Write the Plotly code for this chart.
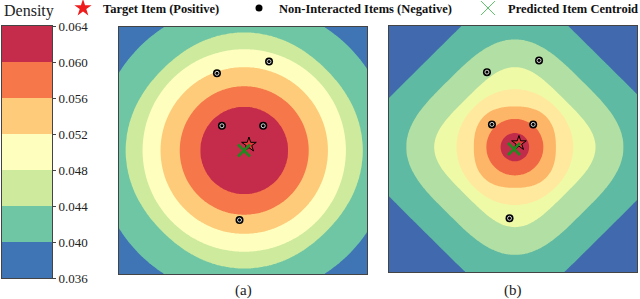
import numpy as np
import plotly.graph_objects as go

# ---------------- data ----------------
# colour-bar / panel (a) band boundaries
CB_TICKS = [0.036, 0.040, 0.044, 0.048, 0.052, 0.056, 0.060, 0.064]
CB_LABELS = ["0.036", "0.040", "0.044", "0.048", "0.052", "0.056", "0.060", "0.064"]
A_COLORS = ["#3f75b5", "#6fc6a5", "#cdea9d", "#fefebe", "#fdcb79", "#f5774a", "#c52c4b"]

# panel (a): density level -> contour radius along the axes, and contour shape
A_LEVELS = [0.0637, 0.060, 0.056, 0.052, 0.048, 0.044, 0.040, 0.034]
A_RADII = [0.0, 0.355, 0.52, 0.675, 0.82, 0.955, 1.19, 1.75]
A_PNORM = [2.0, 2.0, 2.0, 2.0, 2.0, 2.17, 2.0, 2.0]
A_ROTATED = [False, False, False, False, False, True, False, False]
A_CENTER = [0.01, 0.0]

# panel (b): finer levels, rounded-diamond outer contours
B_LEVELS = [0.0615, 0.0585, 0.055, 0.0515, 0.048, 0.0445, 0.041, 0.0375, 0.032]
B_RADII = [0.0, 0.115, 0.23, 0.33, 0.47, 0.65, 0.875, 1.26, 2.3]
B_PNORM = [2.0, 2.0, 2.0, 2.5, 2.1, 3.7, 3.3, 6.0, 6.0]
B_ROTATED = [False, False, False, False, True, True, True, True, True]
B_CENTER = [0.015, 0.015]
B_COLORS = ["#416aae", "#5ebaa2", "#b2dfa3", "#effaa7", "#fee99f", "#fdb667", "#f06744", "#c02c4a"]

# items (same embedding positions in both panels)
NEG_X = [-0.21, 0.21, -0.17, 0.163, -0.028]
NEG_Y = [0.625, 0.72, 0.20, 0.20, -0.563]
TARGET_X = [0.048]
TARGET_Y = [0.047]
CENTROID_X = [0.008]
CENTROID_Y = [0.0]

GRID = np.linspace(-1, 1, 201)


def shape_norm(X, Y, p, rotated):
    if rotated:
        u, v = np.abs(X + Y) / np.sqrt(2), np.abs(X - Y) / np.sqrt(2)
        scale = 2 ** (1.0 / p) / np.sqrt(2)
    else:
        u, v = np.abs(X), np.abs(Y)
        scale = 1.0
    return (u ** p + v ** p) ** (1.0 / p) / scale


def density_field(center, levels, radii, pnorm, rotated):
    X, Y = np.meshgrid(GRID - center[0], GRID - center[1])
    Z = np.full(X.shape, levels[-1], dtype=float)
    done = np.zeros(X.shape, dtype=bool)
    prev = None
    for k in range(len(levels)):
        s = shape_norm(X, Y, pnorm[k], rotated[k]) - radii[k]
        if prev is not None:
            inside = (s < 0) & ~done
            denom = np.where(prev - s == 0, 1.0, prev - s)
            f = prev / denom
            Z = np.where(inside, levels[k - 1] + f * (levels[k] - levels[k - 1]), Z)
            done |= inside
        prev = s
    return Z


def step_scale(colors):
    n = len(colors)
    sc = []
    for i, c in enumerate(colors):
        sc.append([i / n, c])
        sc.append([(i + 1) / n, c])
    return sc


def centered_scale(colors):
    # contour fill colours are sampled at i/(n-1); steps centred on those points
    n = len(colors)
    sc = []
    for i, c in enumerate(colors):
        lo = max(0.0, (i - 0.5) / (n - 1))
        hi = min(1.0, (i + 0.5) / (n - 1))
        sc.append([lo, c])
        sc.append([hi, c])
    return sc


SERIF = "Liberation Serif, Times New Roman, serif"

fig = go.Figure()

Za = density_field(A_CENTER, A_LEVELS, A_RADII, A_PNORM, A_ROTATED)
Zb = density_field(B_CENTER, B_LEVELS, B_RADII, B_PNORM, B_ROTATED)

fig.add_trace(go.Contour(
    x=GRID, y=GRID, z=Za, xaxis="x", yaxis="y",
    contours=dict(start=0.040, end=0.0601, size=0.004, coloring="fill", showlines=False),
    colorscale=centered_scale(A_COLORS), showscale=False, line=dict(width=0, smoothing=1),
    hoverinfo="skip", showlegend=False))

fig.add_trace(go.Contour(
    x=GRID, y=GRID, z=Zb, xaxis="x2", yaxis="y2",
    contours=dict(start=0.0375, end=0.0586, size=0.0035, coloring="fill", showlines=False),
    colorscale=centered_scale(B_COLORS), showscale=False, line=dict(width=0, smoothing=1),
    hoverinfo="skip", showlegend=False))

# markers in both panels
for xa, ya in (("x", "y"), ("x2", "y2")):
    fig.add_trace(go.Scatter(x=NEG_X, y=NEG_Y, xaxis=xa, yaxis=ya, mode="markers",
                             marker=dict(symbol="circle", size=8, color="black"),
                             showlegend=False, hoverinfo="skip"))
    fig.add_trace(go.Scatter(x=NEG_X, y=NEG_Y, xaxis=xa, yaxis=ya, mode="markers",
                             marker=dict(symbol="circle-open", size=4, color="#d8d8d8",
                                         line=dict(width=1, color="#d8d8d8")),
                             showlegend=False, hoverinfo="skip"))
    fig.add_trace(go.Scatter(x=TARGET_X, y=TARGET_Y, xaxis=xa, yaxis=ya, mode="markers",
                             marker=dict(symbol="star", size=11, color="#e8383b",
                                         line=dict(width=1, color="black")),
                             showlegend=False, hoverinfo="skip"))
    fig.add_trace(go.Scatter(x=CENTROID_X, y=CENTROID_Y, xaxis=xa, yaxis=ya, mode="markers",
                             marker=dict(symbol="x-thin", size=12,
                                         line=dict(width=2.5, color="#1f8a1f")),
                             showlegend=False, hoverinfo="skip"))

# legend-only entries, each in its own legend box
fig.add_trace(go.Scatter(x=[None], y=[None], mode="markers", name="<b>Target Item (Positive)</b>",
                         marker=dict(symbol="star", size=13, color="#ee1c1c"), legend="legend"))
fig.add_trace(go.Scatter(x=[None], y=[None], mode="markers", name="<b>Non-Interacted Items (Negative)</b>",
                         marker=dict(symbol="circle", size=7, color="black"), legend="legend2"))
fig.add_trace(go.Scatter(x=[None], y=[None], mode="markers", name="<b>Predicted Item Centroid</b>",
                         marker=dict(symbol="x-thin", size=14, line=dict(width=1, color="#5cbf6a")),
                         legend="legend3"))

# colour bar as a heatmap of the bands
CB_MID = [(a + b) / 2 for a, b in zip(CB_TICKS[:-1], CB_TICKS[1:])]
fig.add_trace(go.Heatmap(
    x=[0], y=CB_TICKS, z=[[m] for m in CB_MID], xaxis="x3", yaxis="y3",
    zmin=CB_TICKS[0], zmax=CB_TICKS[-1], colorscale=step_scale(A_COLORS),
    showscale=False, hoverinfo="skip", showlegend=False))

frame = dict(showline=True, mirror=True, linecolor="#444", linewidth=1,
             showgrid=False, zeroline=False, showticklabels=False, ticks="")

leg = dict(orientation="h", xanchor="left", y=1.022, yanchor="top",
           font=dict(family=SERIF, size=12.5, color="#111"),
           bgcolor="rgba(0,0,0,0)", itemclick=False, borderwidth=0)

fig.update_layout(
    width=640, height=299,
    margin=dict(l=0, r=0, t=0, b=0, autoexpand=False),
    paper_bgcolor="white", plot_bgcolor="white",
    font=dict(family=SERIF, color="#111"),
    hovermode=False,
    xaxis=dict(domain=[119 / 640, 367 / 640], range=[-1, 1], **frame),
    yaxis=dict(domain=[1 - 274 / 299, 1 - 27 / 299], range=[-1, 1], **frame),
    xaxis2=dict(domain=[389 / 640, 637 / 640], range=[-1, 1], anchor="y2", **frame),
    yaxis2=dict(domain=[1 - 272 / 299, 1 - 26 / 299], range=[-1, 1], anchor="x2", **frame),
    xaxis3=dict(domain=[2 / 640, 52 / 640], range=[-0.5, 0.5], anchor="y3", **frame),
    yaxis3=dict(domain=[1 - 278 / 299, 1 - 26 / 299], range=[CB_TICKS[0], CB_TICKS[-1]],
                anchor="x3", side="right", showline=True, mirror=True, linecolor="#444",
                linewidth=1, showgrid=False, zeroline=False, ticks="outside", ticklen=3,
                tickcolor="#444", tickvals=CB_TICKS, ticktext=CB_LABELS,
                tickfont=dict(family=SERIF, size=13, color="#222")),
    legend=dict(x=63 / 640, **leg),
    legend2=dict(x=239 / 640, **leg),
    legend3=dict(x=468 / 640, **leg),
    annotations=[
        dict(text="Density", x=2 / 640, y=1 - 11 / 299, xref="paper", yref="paper",
             xanchor="left", yanchor="middle", showarrow=False,
             font=dict(family=SERIF, size=16, color="#222")),
        dict(text="(a)", x=243 / 640, y=1 - 290 / 299, xref="paper", yref="paper",
             xanchor="center", yanchor="middle",
             showarrow=False, font=dict(family=SERIF, size=15, color="#222")),
        dict(text="(b)", x=513 / 640, y=1 - 290 / 299, xref="paper", yref="paper",
             xanchor="center", yanchor="middle",
             showarrow=False, font=dict(family=SERIF, size=15, color="#222")),
    ],
)

fig.write_html("out.html", config={"displayModeBar": False, "staticPlot": True},
               post_script="document.body.style.margin='0px';document.body.style.overflow='hidden';")
